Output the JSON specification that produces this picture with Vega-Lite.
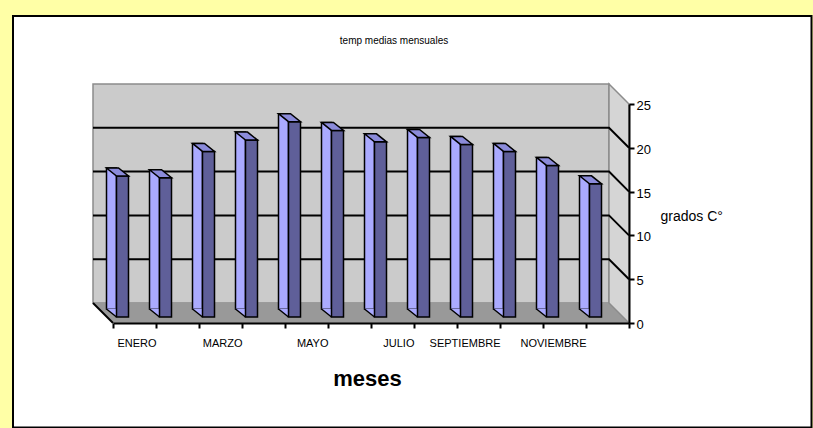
{
  "$schema": "https://vega.github.io/schema/vega-lite/v6.json",
  "width": 516,
  "height": 219,
  "autosize": {"type": "none"},
  "padding": {"left": 113, "top": 104, "right": 184, "bottom": 105},
  "background": "#FFFFA6",
  "config": {"view": {"stroke": null}},
  "title": {
    "text": "temp medias mensuales",
    "font": "Liberation Sans",
    "fontSize": 10,
    "fontWeight": "normal",
    "color": "#000000",
    "anchor": "middle",
    "frame": "group",
    "baseline": "alphabetic",
    "offset": -42,
    "dx": 23
  },
  "datasets": {
    "temps": [
      {"mes": "ENERO", "temp": 16.1},
      {"mes": "FEBRERO", "temp": 15.9},
      {"mes": "MARZO", "temp": 18.9},
      {"mes": "ABRIL", "temp": 20.2},
      {"mes": "MAYO", "temp": 22.3},
      {"mes": "JUNIO", "temp": 21.3},
      {"mes": "JULIO", "temp": 20.0},
      {"mes": "AGOSTO", "temp": 20.5},
      {"mes": "SEPTIEMBRE", "temp": 19.7},
      {"mes": "OCTUBRE", "temp": 18.9},
      {"mes": "NOVIEMBRE", "temp": 17.3},
      {"mes": "DICIEMBRE", "temp": 15.2}
    ],
    "grid": [{"v": 5}, {"v": 10}, {"v": 15}, {"v": 20}],
    "one": [{}]
  },
  "layer": [
    {
      "data": {"name": "one"},
      "mark": {"type": "point", "filled": true, "size": 400, "fill": "#FFFFFF", "stroke": "#000000", "strokeWidth": 2, "opacity": 1,
        "shape": "M -35.8 -30.7 L 44.05 -30.7 L 44.05 10.45 L -35.8 10.45 Z"},
      "encoding": {"y": {"datum": 0, "type": "quantitative"}}
    },
    {
      "data": {"name": "one"},
      "mark": {"type": "point", "filled": true, "size": 400, "fill": "#CBCBCB", "stroke": "#8C8C8C", "strokeWidth": 1.5, "opacity": 1,
        "shape": "M -27.8 -23.9 L 23.8 -23.9 L 23.8 -2 L -27.8 -2 Z"},
      "encoding": {"y": {"datum": 0, "type": "quantitative"}}
    },
    {
      "data": {"name": "one"},
      "mark": {"type": "point", "filled": true, "size": 400, "fill": "#999999", "strokeWidth": 0, "opacity": 1,
        "shape": "M -25.8 0 L 25.8 0 L 23.8 -2 L -27.8 -2 Z"},
      "encoding": {"y": {"datum": 0, "type": "quantitative"}}
    },
    {
      "data": {"name": "one"},
      "mark": {"type": "point", "filled": true, "size": 400, "fill": "#D5D5D5", "stroke": "#8C8C8C", "strokeWidth": 1.5, "opacity": 1,
        "shape": "M 23.8 -23.9 L 25.8 -21.9 L 25.8 0 L 23.8 -2 Z"},
      "encoding": {"y": {"datum": 0, "type": "quantitative"}}
    },
    {
      "data": {"name": "one"},
      "mark": {"type": "point", "filled": false, "size": 400, "stroke": "#000000", "strokeWidth": 2, "opacity": 1,
        "shape": "M -27.8 -2 L -25.8 0"},
      "encoding": {"y": {"datum": 0, "type": "quantitative"}}
    },
    {
      "data": {"name": "grid"},
      "mark": {"type": "point", "filled": false, "size": 400, "stroke": "#000000", "strokeWidth": 2, "opacity": 1,
        "shape": "M -27.8 -2 L 23.8 -2 L 25.8 0"},
      "encoding": {"y": {"field": "v", "type": "quantitative"}}
    },
    {
      "data": {"name": "temps"},
      "mark": {"type": "bar", "width": 10, "fill": "#AAAAFF", "stroke": "#000000", "strokeWidth": 1.5, "xOffset": -23, "yOffset": -14, "y2Offset": -14},
      "encoding": {
        "x": {"field": "mes", "type": "nominal", "sort": null},
        "y": {"field": "temp", "type": "quantitative"}
      }
    },
    {
      "data": {"name": "temps"},
      "mark": {"type": "point", "filled": true, "size": 400, "fill": "#AAAAFF", "strokeWidth": 0, "opacity": 1, "xOffset": -12, "yOffset": -6,
        "shape": "M -1.6 -0.85 L -0.6 -0.85 L -0.6 0 Z"},
      "encoding": {
        "x": {"field": "mes", "type": "nominal", "sort": null},
        "y": {"datum": 0, "type": "quantitative"}
      }
    },
    {
      "data": {"name": "temps"},
      "mark": {"type": "point", "filled": false, "size": 400, "stroke": "#000000", "strokeWidth": 1.5, "opacity": 1, "xOffset": -12, "yOffset": -6,
        "shape": "M -1.6 -0.8 L -0.6 0"},
      "encoding": {
        "x": {"field": "mes", "type": "nominal", "sort": null},
        "y": {"datum": 0, "type": "quantitative"}
      }
    },
    {
      "data": {"name": "temps"},
      "mark": {"type": "bar", "width": 12, "fill": "#5F5F99", "stroke": "#000000", "strokeWidth": 1.5, "xOffset": -12, "yOffset": -6, "y2Offset": -6},
      "encoding": {
        "x": {
          "field": "mes", "type": "nominal", "sort": null,
          "scale": {"paddingInner": 0, "paddingOuter": 0},
          "title": "meses",
          "axis": {
            "zindex": 1,
            "tickBand": "extent",
            "domainColor": "#000000", "domainWidth": 2,
            "tickColor": "#000000", "tickWidth": 2, "tickSize": 5,
            "labelAngle": 0,
            "labelFont": "Liberation Sans",
            "labelFontSize": 11,
            "labelColor": "#000000",
            "labelPadding": 15,
            "labelOffset": 21.5,
            "labelExpr": "indexof(['ENERO','MARZO','MAYO','JULIO','SEPTIEMBRE','NOVIEMBRE'], datum.value) >= 0 ? datum.label : ''",
            "titleFont": "Liberation Sans",
            "titleFontSize": 22,
            "titleFontWeight": "bold",
            "titleColor": "#000000",
            "titlePadding": 20,
            "titleX": 254,
            "grid": false
          }
        },
        "y": {
          "field": "temp", "type": "quantitative",
          "title": "grados C°",
          "scale": {"domain": [0, 25], "nice": false},
          "axis": {
            "zindex": 1,
            "orient": "right",
            "values": [0, 5, 10, 15, 20, 25],
            "grid": false,
            "domainColor": "#000000", "domainWidth": 2,
            "tickColor": "#000000", "tickWidth": 2, "tickSize": 5,
            "labelFont": "Liberation Sans",
            "labelFontSize": 13,
            "labelColor": "#000000",
            "labelPadding": 2,
            "labelOffset": 1.5,
            "titleFont": "Liberation Sans",
            "titleFontSize": 14,
            "titleFontWeight": "normal",
            "titleColor": "#000000",
            "titleAngle": 0,
            "titleAlign": "left",
            "titleBaseline": "middle",
            "titleX": 31,
            "titleY": 112
          }
        }
      }
    },
    {
      "data": {"name": "temps"},
      "mark": {"type": "point", "filled": true, "size": 400, "fill": "#8B8BDA", "stroke": "#000000", "strokeWidth": 1.5, "opacity": 1, "xOffset": -12, "yOffset": -6,
        "shape": "M -1.6 -0.8 L -0.4 -0.8 L 0.6 0 L -0.6 0 Z"},
      "encoding": {
        "x": {"field": "mes", "type": "nominal", "sort": null},
        "y": {"field": "temp", "type": "quantitative"}
      }
    }
  ]
}
